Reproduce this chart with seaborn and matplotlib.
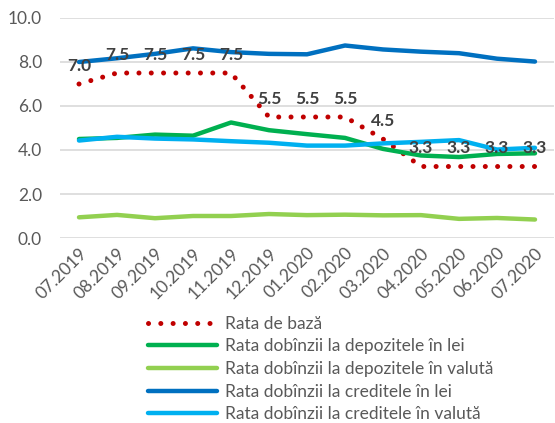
import matplotlib
matplotlib.use("Agg")
import matplotlib.pyplot as plt
import seaborn as sns
import pandas as pd
import numpy as np

months = ["07.2019", "08.2019", "09.2019", "10.2019", "11.2019", "12.2019",
          "01.2020", "02.2020", "03.2020", "04.2020", "05.2020", "06.2020", "07.2020"]
rata_baza = [7.0, 7.5, 7.5, 7.5, 7.5, 5.5, 5.5, 5.5, 4.5, 3.25, 3.25, 3.25, 3.25]
dep_lei = [4.5, 4.55, 4.7, 4.65, 5.25, 4.9, 4.72, 4.55, 4.05, 3.75, 3.68, 3.82, 3.85]
dep_val = [0.94, 1.05, 0.9, 1.0, 1.0, 1.09, 1.04, 1.06, 1.03, 1.04, 0.87, 0.91, 0.84]
cred_lei = [8.0, 8.17, 8.37, 8.62, 8.45, 8.37, 8.35, 8.75, 8.57, 8.47, 8.4, 8.15, 8.02]
cred_val = [4.43, 4.6, 4.52, 4.48, 4.4, 4.33, 4.2, 4.2, 4.3, 4.37, 4.45, 4.02, 4.1]
baza_labels = ["7.0", "7.5", "7.5", "7.5", "7.5", "5.5", "5.5", "5.5", "4.5", "3.3", "3.3", "3.3", "3.3"]
yticks = [0.0, 2.0, 4.0, 6.0, 8.0, 10.0]

names = ["Rata de bază", "Rata dobînzii la depozitele în lei", "Rata dobînzii la depozitele în valută",
         "Rata dobînzii la creditele în lei", "Rata dobînzii la creditele în valută"]
series = [rata_baza, dep_lei, dep_val, cred_lei, cred_val]
colors = ["#C00000", "#00B050", "#92D050", "#0070C0", "#00B0F0"]

sns.set_style("white")
plt.rcParams["font.family"] = ["Lato", "DejaVu Sans"]

fig = plt.figure(figsize=(5.55, 4.23), dpi=100)
ax = fig.add_axes([60/555, (423-238)/423, (554-60)/555, 220/423])

x = np.arange(len(months))
for name, vals, col in zip(names, series, colors):
    df = pd.DataFrame({"x": x, "y": vals})
    if name == "Rata de bază":
        sns.lineplot(data=df, x="x", y="y", ax=ax, color=col, lw=3.6,
                     linestyle=(0, (0.01, 2.45)), dash_capstyle="round", label=name)
    else:
        sns.lineplot(data=df, x="x", y="y", ax=ax, color=col, lw=3.2,
                     solid_capstyle="round", label=name)

for xi, v, lab in zip(x, rata_baza, baza_labels):
    ax.annotate(lab, (xi, v), xytext=(0, 13), textcoords="offset points",
                ha="center", va="center", fontsize=12.5, fontweight="bold", color="#404040")

ax.set_xlim(-0.5, len(months) - 0.5)
ax.set_ylim(0, 10)
ax.set_yticks(yticks)
ax.set_yticklabels([f"{t:.1f}" for t in yticks])
ax.set_xticks(x)
ax.set_xticklabels(months, rotation=45, ha="right", rotation_mode="anchor")
ax.tick_params(axis="both", labelsize=12.5, labelcolor="#595959", length=0)
ax.tick_params(axis="y", pad=13)
ax.tick_params(axis="x", pad=5)
ax.grid(axis="y", color="#D9D9D9", lw=1.2)
ax.set_axisbelow(True)
for s in ax.spines.values():
    s.set_visible(False)
ax.set_xlabel("")
ax.set_ylabel("")

handles, labels = ax.get_legend_handles_labels()
ax.get_legend().remove()
fig.legend(handles, labels, loc="center left", bbox_to_anchor=(139/555, 1 - 369/423),
           frameon=False, fontsize=12.5, labelcolor="#595959", handlelength=4.0,
           handletextpad=0.45, labelspacing=0.38, borderpad=0)

fig.savefig("out.png", dpi=100)
